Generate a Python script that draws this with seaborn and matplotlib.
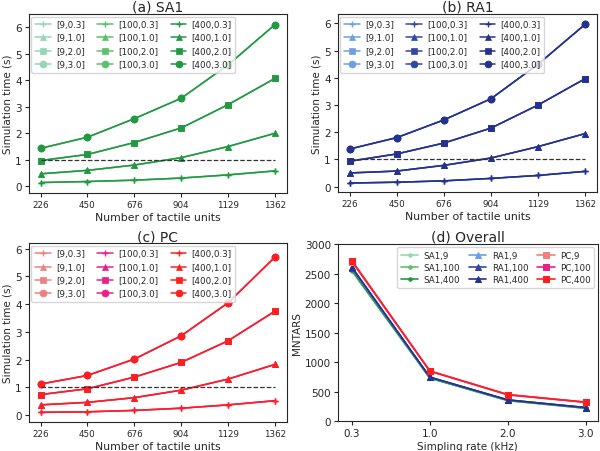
import numpy as np
import pandas as pd
import matplotlib
matplotlib.use('Agg')
import matplotlib.pyplot as plt
import seaborn as sns

units = ['226', '450', '676', '904', '1129', '1362']
points = ['9', '100', '400']
rates = ['0.3', '1.0', '2.0', '3.0']

# simulation time (s) per sampling rate (9/100/400 overlap)
sa1_03 = [0.14, 0.18, 0.23, 0.31, 0.43, 0.58]
sa1_10 = [0.47, 0.60, 0.80, 1.08, 1.50, 2.00]
sa1_20 = [0.97, 1.20, 1.65, 2.20, 3.08, 4.07]
sa1_30 = [1.43, 1.85, 2.55, 3.32, 4.58, 6.10]

ra1_03 = [0.13, 0.16, 0.21, 0.30, 0.41, 0.56]
ra1_10 = [0.50, 0.57, 0.78, 1.05, 1.47, 1.95]
ra1_20 = [0.93, 1.20, 1.60, 2.15, 3.00, 3.97]
ra1_30 = [1.38, 1.80, 2.45, 3.23, 4.50, 5.97]

pc_03 = [0.10, 0.12, 0.17, 0.25, 0.37, 0.52]
pc_10 = [0.37, 0.46, 0.63, 0.90, 1.30, 1.83]
pc_20 = [0.74, 0.95, 1.37, 1.90, 2.68, 3.75]
pc_30 = [1.12, 1.43, 2.02, 2.86, 4.05, 5.70]

# overall MNTARS vs sampling rate
sa1_9 = [2540, 725, 345, 215]
sa1_100 = [2550, 730, 350, 220]
sa1_400 = [2555, 730, 350, 220]
ra1_9 = [2590, 740, 358, 228]
ra1_100 = [2600, 745, 360, 230]
ra1_400 = [2610, 745, 360, 230]
pc_9 = [2700, 845, 445, 318]
pc_100 = [2710, 848, 448, 320]
pc_400 = [2720, 850, 450, 322]

colors = {
    'SA1': ['#93d6b8', '#5cc06c', '#229843'],
    'RA1': ['#6e9fe0', '#3346a6', '#26318c'],
    'PC': ['#f08080', '#ea1f8c', '#ff1f1f'],
}
markers = {'0.3': '+', '1.0': '^', '2.0': 's', '3.0': 'o'}

sns.set_style('ticks')
plt.rcParams['font.family'] = ['DejaVu Sans']
plt.rcParams['xtick.major.size'] = 3
plt.rcParams['ytick.major.size'] = 3

fig = plt.figure(figsize=(6, 4.52), dpi=100)
ax_a = fig.add_axes([0.048, 0.571, 0.43, 0.396])
ax_b = fig.add_axes([0.563, 0.573, 0.432, 0.394])
ax_c = fig.add_axes([0.048, 0.064, 0.43, 0.396])
ax_d = fig.add_axes([0.563, 0.066, 0.433, 0.392])

panels = [
    (ax_a, 'SA1', '(a) SA1', [sa1_03, sa1_10, sa1_20, sa1_30], (-0.25, 6.5)),
    (ax_b, 'RA1', '(b) RA1', [ra1_03, ra1_10, ra1_20, ra1_30], (-0.2, 6.35)),
    (ax_c, 'PC', '(c) PC', [pc_03, pc_10, pc_20, pc_30], (-0.25, 6.2)),
]
x = np.arange(len(units))
for ax, name, title, series, ylim in panels:
    for p, col in zip(points, colors[name]):
        for r, vals in zip(rates, series):
            df = pd.DataFrame({'x': x, 'y': vals})
            sns.lineplot(data=df, x='x', y='y', ax=ax, color=col, marker=markers[r],
                         markersize=5 if r != '0.3' else 4, markeredgecolor=col,
                         markeredgewidth=1 if r == '0.3' else 0.5,
                         linewidth=1.1, label=f'[{p},{r}]')
    ax.plot([x[0], x[-1]], [1, 1], ls='--', color='#333333', lw=0.9)
    ax.set_xticks(x)
    ax.set_xticklabels(units, fontsize=6.3)
    ax.set_ylim(*ylim)
    ax.set_yticks(range(0, 7))
    ax.tick_params(axis='y', labelsize=7.5, pad=2)
    ax.tick_params(axis='x', pad=2)
    ax.set_xlabel('Number of tactile units', fontsize=7.8, labelpad=2)
    ax.set_ylabel('Simulation time (s)', fontsize=7.5, labelpad=2)
    ax.set_title(title, fontsize=10, pad=2)
    ax.legend(ncol=3, fontsize=6.3, loc='upper left', handlelength=1.8,
              columnspacing=1.4, labelspacing=0.5, borderpad=0.4,
              handletextpad=0.6, borderaxespad=0.3)

rate_x = np.arange(len(rates))
overall = [
    ('SA1,9', sa1_9, colors['SA1'][0], '.'),
    ('SA1,100', sa1_100, colors['SA1'][1], '.'),
    ('SA1,400', sa1_400, colors['SA1'][2], '.'),
    ('RA1,9', ra1_9, colors['RA1'][0], '^'),
    ('RA1,100', ra1_100, colors['RA1'][1], '^'),
    ('RA1,400', ra1_400, colors['RA1'][2], '^'),
    ('PC,9', pc_9, colors['PC'][0], 's'),
    ('PC,100', pc_100, colors['PC'][1], 's'),
    ('PC,400', pc_400, colors['PC'][2], 's'),
]
for lab, vals, col, mk in overall:
    df = pd.DataFrame({'x': rate_x, 'y': vals})
    sns.lineplot(data=df, x='x', y='y', ax=ax_d, color=col, marker=mk,
                 markersize=5, markeredgecolor=col, linewidth=1.2, label=lab)
ax_d.set_xticks(rate_x)
ax_d.set_xticklabels(rates)
ax_d.set_xlim(-0.18, 3.15)
ax_d.set_ylim(0, 3000)
ax_d.set_yticks(range(0, 3001, 500))
ax_d.tick_params(labelsize=7.5, pad=2)
ax_d.set_xlabel('Simpling rate (kHz)', fontsize=7.5, labelpad=2)
ax_d.set_ylabel('MNTARS', fontsize=7.5, labelpad=2)
ax_d.set_title('(d) Overall', fontsize=10, pad=2)
ax_d.legend(ncol=3, fontsize=6.3, loc='upper right', handlelength=2.0,
            columnspacing=1.0, labelspacing=0.35, borderpad=0.4,
            handletextpad=0.6, borderaxespad=0.4)

fig.savefig('out.png', dpi=100)
